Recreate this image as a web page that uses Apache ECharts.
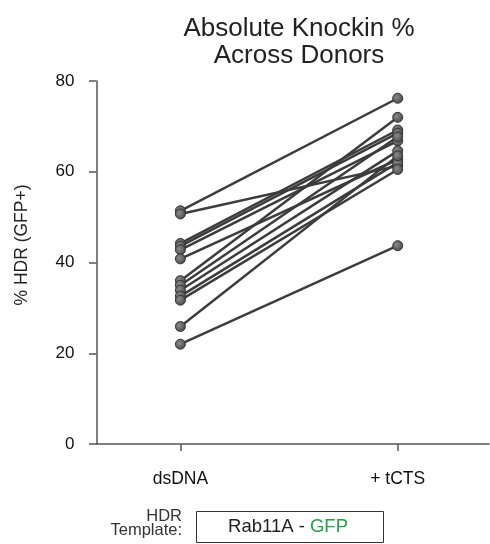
<!DOCTYPE html>
<html>
<head>
<meta charset="utf-8">
<script src="https://cdn.jsdelivr.net/npm/echarts@6/dist/echarts.min.js"></script>
<style>
  html, body { margin: 0; padding: 0; background: #fff; }
  #chart { width: 490px; height: 544px; }
</style>
</head>
<body>
<div id="chart"></div>
<script>
// Paired % HDR (GFP+) per donor, dsDNA template vs. + tCTS
const conditions = ['dsDNA', '+ tCTS'];
const dsDNA = [51.4, 50.7, 44.2, 43.6, 42.8, 40.8, 36.0, 35.0, 33.9, 32.6, 31.7, 25.9, 22.0];
const tCTS  = [76.2, 61.3, 69.2, 68.5, 66.8, 62.7, 72.0, 67.7, 64.6, 62.0, 60.5, 63.5, 43.7];
const yTicks = [0, 20, 40, 60, 80];

const chart = echarts.init(document.getElementById('chart'), null, { renderer: 'canvas' });

const font = 'Liberation Sans, Arial, Helvetica, sans-serif';
const dotStyle = {
  color: {
    type: 'radial', x: 0.4, y: 0.4, r: 0.6,
    colorStops: [{ offset: 0, color: '#8a8a8a' }, { offset: 1, color: '#4a4a4a' }]
  },
  borderColor: '#333',
  borderWidth: 1
};

const series = dsDNA.map((v, i) => ({
  type: 'line',
  data: [[0, v], [1, tCTS[i]]],
  symbol: 'circle',
  symbolSize: 10,
  lineStyle: { color: '#3c3c3c', width: 2.5 },
  itemStyle: dotStyle,
  z: 2,
  animation: false
}));

chart.setOption({
  animation: false,
  title: {
    text: 'Absolute Knockin %\nAcross Donors',
    left: 294, top: 10, textAlign: 'center',
    textStyle: { fontFamily: font, fontSize: 26, fontWeight: 'normal', color: '#222', lineHeight: 27 }
  },
  grid: { left: 96.5, right: 1, top: 81, bottom: 100, containLabel: false },
  xAxis: {
    type: 'value',
    min: -0.386, max: 1.42,
    splitLine: { show: false },
    axisLine: { onZero: false, lineStyle: { color: '#555', width: 1.5 } },
    axisTick: { customValues: [0, 1], length: 7, lineStyle: { color: '#555', width: 1.5 } },
    axisLabel: {
      customValues: [0, 1],
      formatter: v => conditions[Math.round(v)],
      margin: 26, fontFamily: font, fontSize: 17.5, color: '#111'
    }
  },
  yAxis: {
    type: 'value',
    min: 0, max: 80, interval: 20,
    splitLine: { show: false },
    axisLine: { show: true, onZero: false, lineStyle: { color: '#555', width: 1.5 } },
    axisTick: { show: true, length: 7.5, lineStyle: { color: '#555', width: 1.5 } },
    axisLabel: {
      margin: 22, fontFamily: font, fontSize: 17, color: '#111',
      formatter: v => (yTicks.includes(v) ? String(v) : '')
    }
  },
  graphic: [
    {
      // y-axis title
      type: 'text', x: 22, y: 245, rotation: Math.PI / 2,
      style: {
        text: '% HDR (GFP+)', align: 'center', verticalAlign: 'middle',
        font: '17.5px ' + font, fill: '#222'
      }
    },
    {
      type: 'text', x: 182, y: 516,
      style: { text: 'HDR', align: 'right', verticalAlign: 'middle', font: '16.5px ' + font, fill: '#333' }
    },
    {
      type: 'text', x: 182, y: 530.5,
      style: { text: 'Template:', align: 'right', verticalAlign: 'middle', font: '16.5px ' + font, fill: '#333' }
    },
    {
      type: 'rect', shape: { x: 196.5, y: 511.5, width: 187, height: 31 },
      style: { fill: '#fff', stroke: '#333', lineWidth: 1 }
    },
    {
      type: 'text', x: 288, y: 527,
      style: {
        text: '{a|Rab11A - }{g|GFP}',
        align: 'center', verticalAlign: 'middle',
        rich: {
          a: { fontFamily: font, fontSize: 18.5, fill: '#222' },
          g: { fontFamily: font, fontSize: 18.5, fill: '#22a347' }
        }
      }
    }
  ],
  series: series
});
</script>
</body>
</html>
